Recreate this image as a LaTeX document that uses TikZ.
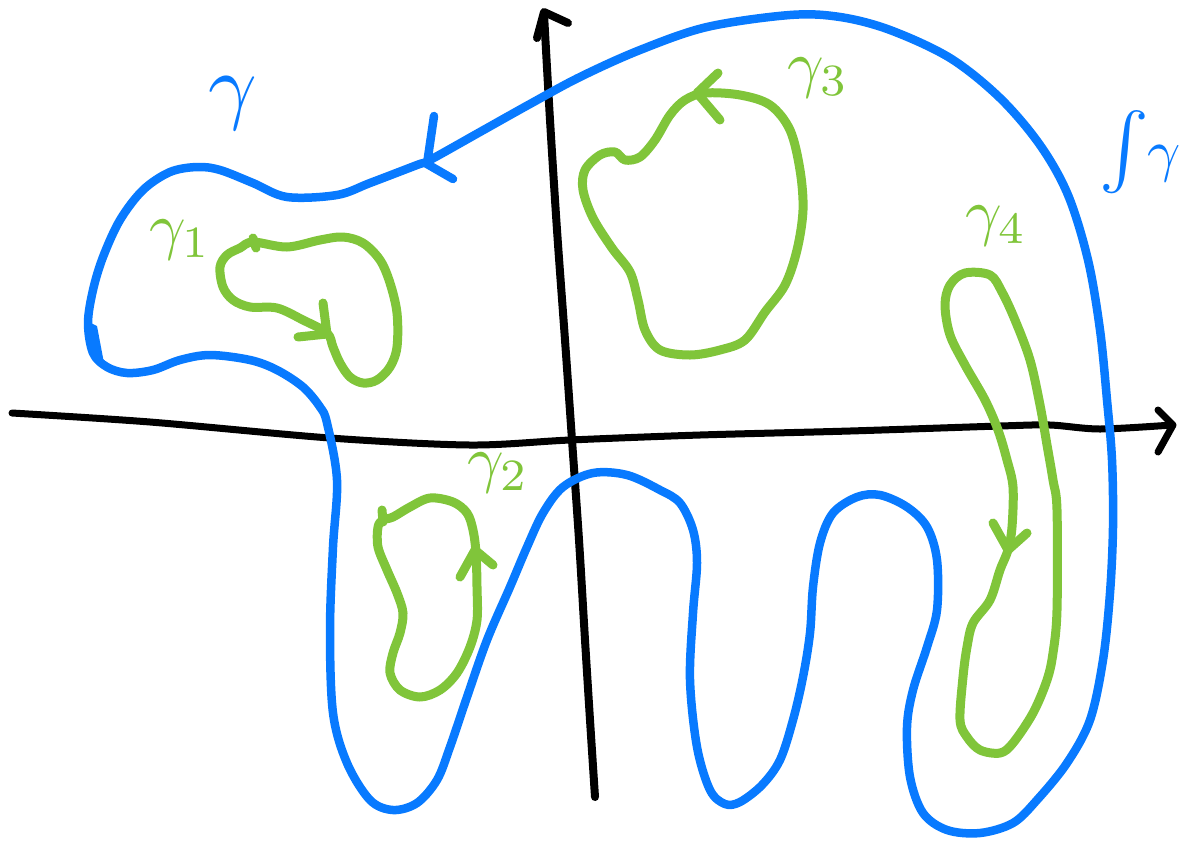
\documentclass[tikz,border=0pt]{standalone}
\definecolor{myblue}{RGB}{8,122,255}
\definecolor{mygreen}{RGB}{128,197,58}
\begin{document}
\begin{tikzpicture}[x=1pt,y=-1pt,line cap=round,line join=round,
  blueline/.style={draw=myblue,line width=8.5pt},
  greenline/.style={draw=mygreen,line width=9pt},
  axisline/.style={draw=black,line width=7pt},
  bluelbl/.style={text=myblue,inner sep=0pt},
  greenlbl/.style={text=mygreen,inner sep=0pt}]
\useasboundingbox (0,0) rectangle (1182,841);
% axes
\draw[axisline] plot[smooth] coordinates {(12,413) (150,422) (330,438) (470,445) (570,440) (700,435) (850,431) (1000,426) (1050,425) (1100,429) (1172,425)};
\coordinate (xtip) at (1173,425);
\draw[axisline] (1158,410) -- (xtip) -- (1158,452);
\draw[axisline,line width=8pt] plot[smooth] coordinates {(595,797) (590,720) (585,640) (579,540) (572,440) (565,340) (557,230) (550,120) (544,14)};
\coordinate (ytip) at (544,12);
\draw[axisline,line width=8pt] (537,38) -- (ytip) -- (568,23);
% blue curve gamma
\draw[blueline] plot[smooth cycle,tension=0.55] coordinates {
(430,160) (480,132) (530,104) (580,77) (640,50) (707,27) (790,15) (840,17) (890,30) (950,58) (1000,98) (1040,145) (1068,195) (1088,260) (1100,330) (1107,400) (1112,460) (1113,527) (1110,593) (1103,660) (1090,720) (1067,763) (1037,800) (1013,823) (980,833) (947,830) (923,813) (910,777) (907,727) (913,690) (927,647) (937,610) (937,560) (927,527) (907,507) (880,495) (857,497) (833,513) (820,543) (813,587) (810,633) (803,677) (793,720) (780,760) (762,785) (740,802) (725,804) (710,790) (697,747) (690,680) (693,613) (697,563) (693,530) (680,503) (660,490) (627,475) (593,473) (563,487) (543,513) (527,547) (510,587) (487,640) (467,697) (450,747) (437,780) (417,803) (393,810) (370,800) (347,763) (333,713) (330,630) (333,547) (337,480) (327,423) (320,407) (303,387) (277,370) (250,360) (210,355) (180,360) (153,370) (127,373) (107,367) (93,353) (88,323) (93,290) (103,257) (120,220) (143,190) (170,172) (197,167) (220,170) (253,183) (287,197) (337,195) (370,183) (417,165)};
\fill[myblue] (85,320) .. controls (85,342) and (92,357) .. (104,363) -- (97,326) -- cycle;
\coordinate (gtip) at (427,164);
\draw[blueline] (434,116) -- (gtip) -- (453,179);
% green gamma1
\draw[greenline] plot[smooth cycle,tension=0.55] coordinates {
(253,242) (287,247) (320,240) (343,237) (363,243) (380,260) (390,283) (397,313) (397,347) (390,367) (377,380) (363,383) (350,377) (340,363) (333,347) (327,333) (303,320) (277,308) (250,307) (233,300) (223,287) (220,267) (227,255) (240,248)};
\draw[greenline] (253,238) -- (256,248);
\coordinate (t1) at (327,334);
\draw[greenline] (323,303) -- (t1) -- (298,337);
% green gamma2
\draw[greenline] plot[smooth cycle,tension=0.55] coordinates {
(383,520) (393,517) (410,507) (430,498) (453,502) (467,513) (473,530) (476,553) (477,587) (477,620) (470,647) (457,673) (440,690) (420,697) (400,690) (390,673) (393,653) (400,633) (403,613) (397,593) (387,570) (378,547) (378,527)};
\draw[greenline] (382,510) -- (383,522);
\coordinate (t2) at (475,550);
\draw[greenline] (460,577) -- (t2) -- (493,565);
% green gamma3
\draw[greenline] plot[smooth cycle,tension=0.55] coordinates {
(600,155) (615,152) (625,160) (640,157) (655,140) (670,115) (685,100) (705,93) (740,95) (770,105) (790,130) (800,170) (803,210) (797,250) (785,285) (765,312) (745,340) (720,350) (690,355) (660,350) (645,330) (638,300) (630,272) (612,248) (593,218) (583,190) (585,170)};
\coordinate (t3) at (697,93);
\draw[greenline] (718,73) -- (t3) -- (720,120);
% green gamma4
\draw[greenline] plot[smooth cycle,tension=0.55] coordinates {
(965,273) (990,275) (1002,292) (1015,320) (1030,360) (1040,405) (1047,445) (1053,480) (1057,510) (1057,610) (1053,653) (1047,680) (1033,713) (1013,743) (1000,753) (980,750) (967,737) (960,720) (963,677) (967,647) (973,623) (990,600) (1000,570) (1008,550) (1012,527) (1013,487) (1007,460) (998,430) (985,400) (965,365) (950,335) (945,305) (950,285)};
\coordinate (t4) at (1008,550);
\draw[greenline] (993,523) -- (t4) -- (1027,533);
% labels
\node[bluelbl] (lg) at (233,103) {\scalebox{8.5}{$\gamma$}};
\node[bluelbl,anchor=east] (lint) at (1181,152) {\scalebox{7.5}{$\int$}\hspace{-2pt}\scalebox{5.8}{$\gamma$}};
\node[greenlbl] (l1) at (180,240) {\scalebox{6.4}{$\gamma_1$}};
\node[greenlbl] (l2) at (498,473) {\scalebox{6.4}{$\gamma_2$}};
\node[greenlbl] (l3) at (818,78) {\scalebox{6.4}{$\gamma_3$}};
\node[greenlbl] (l4) at (996,226) {\scalebox{6.4}{$\gamma_4$}};
\end{tikzpicture}
\end{document}
